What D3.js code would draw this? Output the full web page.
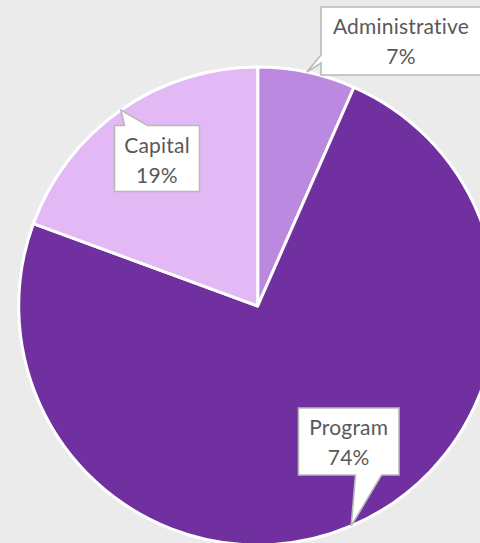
<!DOCTYPE html>
<html>
<head>
<meta charset="utf-8">
<script src="https://cdn.jsdelivr.net/npm/d3@7"></script>
<style>
  html, body { margin: 0; padding: 0; background: #ebebeb; }
  svg { display: block; }
  text { font-variant-ligatures: none; font-feature-settings: "liga" 0, "clig" 0; letter-spacing: 0.2px; }
</style>
</head>
<body>
<svg id="chart" width="480" height="543"></svg>
<script>
// ---- data ----
const categories = ["Administrative", "Program", "Capital"];
const values = [6.6, 74.0, 19.4];
const colors = ["#bb8ae0", "#7030a0", "#e2b9f5"];

// ---- layout (callout boxes, in category order: x, y, w, h, pointer side, pointer base offsets) ----
const callouts = [
  { x: 321, y: 7, w: 162, h: 68, side: "left", b0: 48, b1: 56 },
  { x: 298.5, y: 408, w: 100.5, h: 67, side: "bottom", b0: 57, b1: 83 },
  { x: 114.5, y: 125.5, w: 85, h: 66, side: "top", b0: 10, b1: 33 }
];

const W = 480, H = 543;
const cx = 257.7, cy = 306, R = 239;
const svg = d3.select("#chart");

const pie = d3.pie().sort(null).value(d => d.value);
const data = categories.map((c, i) => ({ name: c, value: values[i], color: colors[i] }));
const arcs = pie(data);
const total = d3.sum(values);
const pct = v => Math.round(v / total * 100) + "%";

const arc = d3.arc().innerRadius(0).outerRadius(R);
const g = svg.append("g").attr("transform", `translate(${cx},${cy})`);

g.selectAll("path.slice").data(arcs).join("path")
  .attr("class", "slice")
  .attr("d", arc)
  .attr("fill", d => d.data.color)
  .attr("stroke", "#ffffff")
  .attr("stroke-width", 3)
  .attr("stroke-linejoin", "round");

// callouts
function calloutPath(c, tip) {
  const { x, y, w, h, side, b0, b1 } = c;
  const p = d3.path();
  if (side === "left") {
    p.moveTo(x, y); p.lineTo(x + w, y); p.lineTo(x + w, y + h); p.lineTo(x, y + h);
    p.lineTo(x, y + b1); p.lineTo(tip[0], tip[1]); p.lineTo(x, y + b0); p.closePath();
  } else if (side === "top") {
    p.moveTo(x, y); p.lineTo(x + b0, y); p.lineTo(tip[0], tip[1]); p.lineTo(x + b1, y);
    p.lineTo(x + w, y); p.lineTo(x + w, y + h); p.lineTo(x, y + h); p.closePath();
  } else {
    p.moveTo(x, y); p.lineTo(x + w, y); p.lineTo(x + w, y + h); p.lineTo(x + b1, y + h);
    p.lineTo(tip[0], tip[1]); p.lineTo(x + b0, y + h); p.lineTo(x, y + h); p.closePath();
  }
  return p.toString();
}

const labelG = svg.append("g");
arcs.forEach((a, i) => {
  const c = callouts[i];
  const mid = (a.startAngle + a.endAngle) / 2;
  const tip = [cx + R * Math.sin(mid), cy - R * Math.cos(mid)];
  labelG.append("path")
    .attr("d", calloutPath(c, tip))
    .attr("fill", "#ffffff")
    .attr("stroke", "#b9b9b9")
    .attr("stroke-width", 1.6)
    .attr("stroke-linejoin", "miter");
  const tx = c.side === "left" ? 401 : c.x + c.w / 2;
  const t = labelG.append("text")
    .attr("text-anchor", "middle")
    .attr("font-family", "Lato, 'Open Sans', sans-serif")
    .attr("font-size", 21)
    .attr("fill", "#595959");
  t.append("tspan").attr("x", tx).attr("y", c.y + 27).text(a.data.name);
  t.append("tspan").attr("x", tx).attr("y", c.y + 57).text(pct(a.data.value));
});
</script>
</body>
</html>
